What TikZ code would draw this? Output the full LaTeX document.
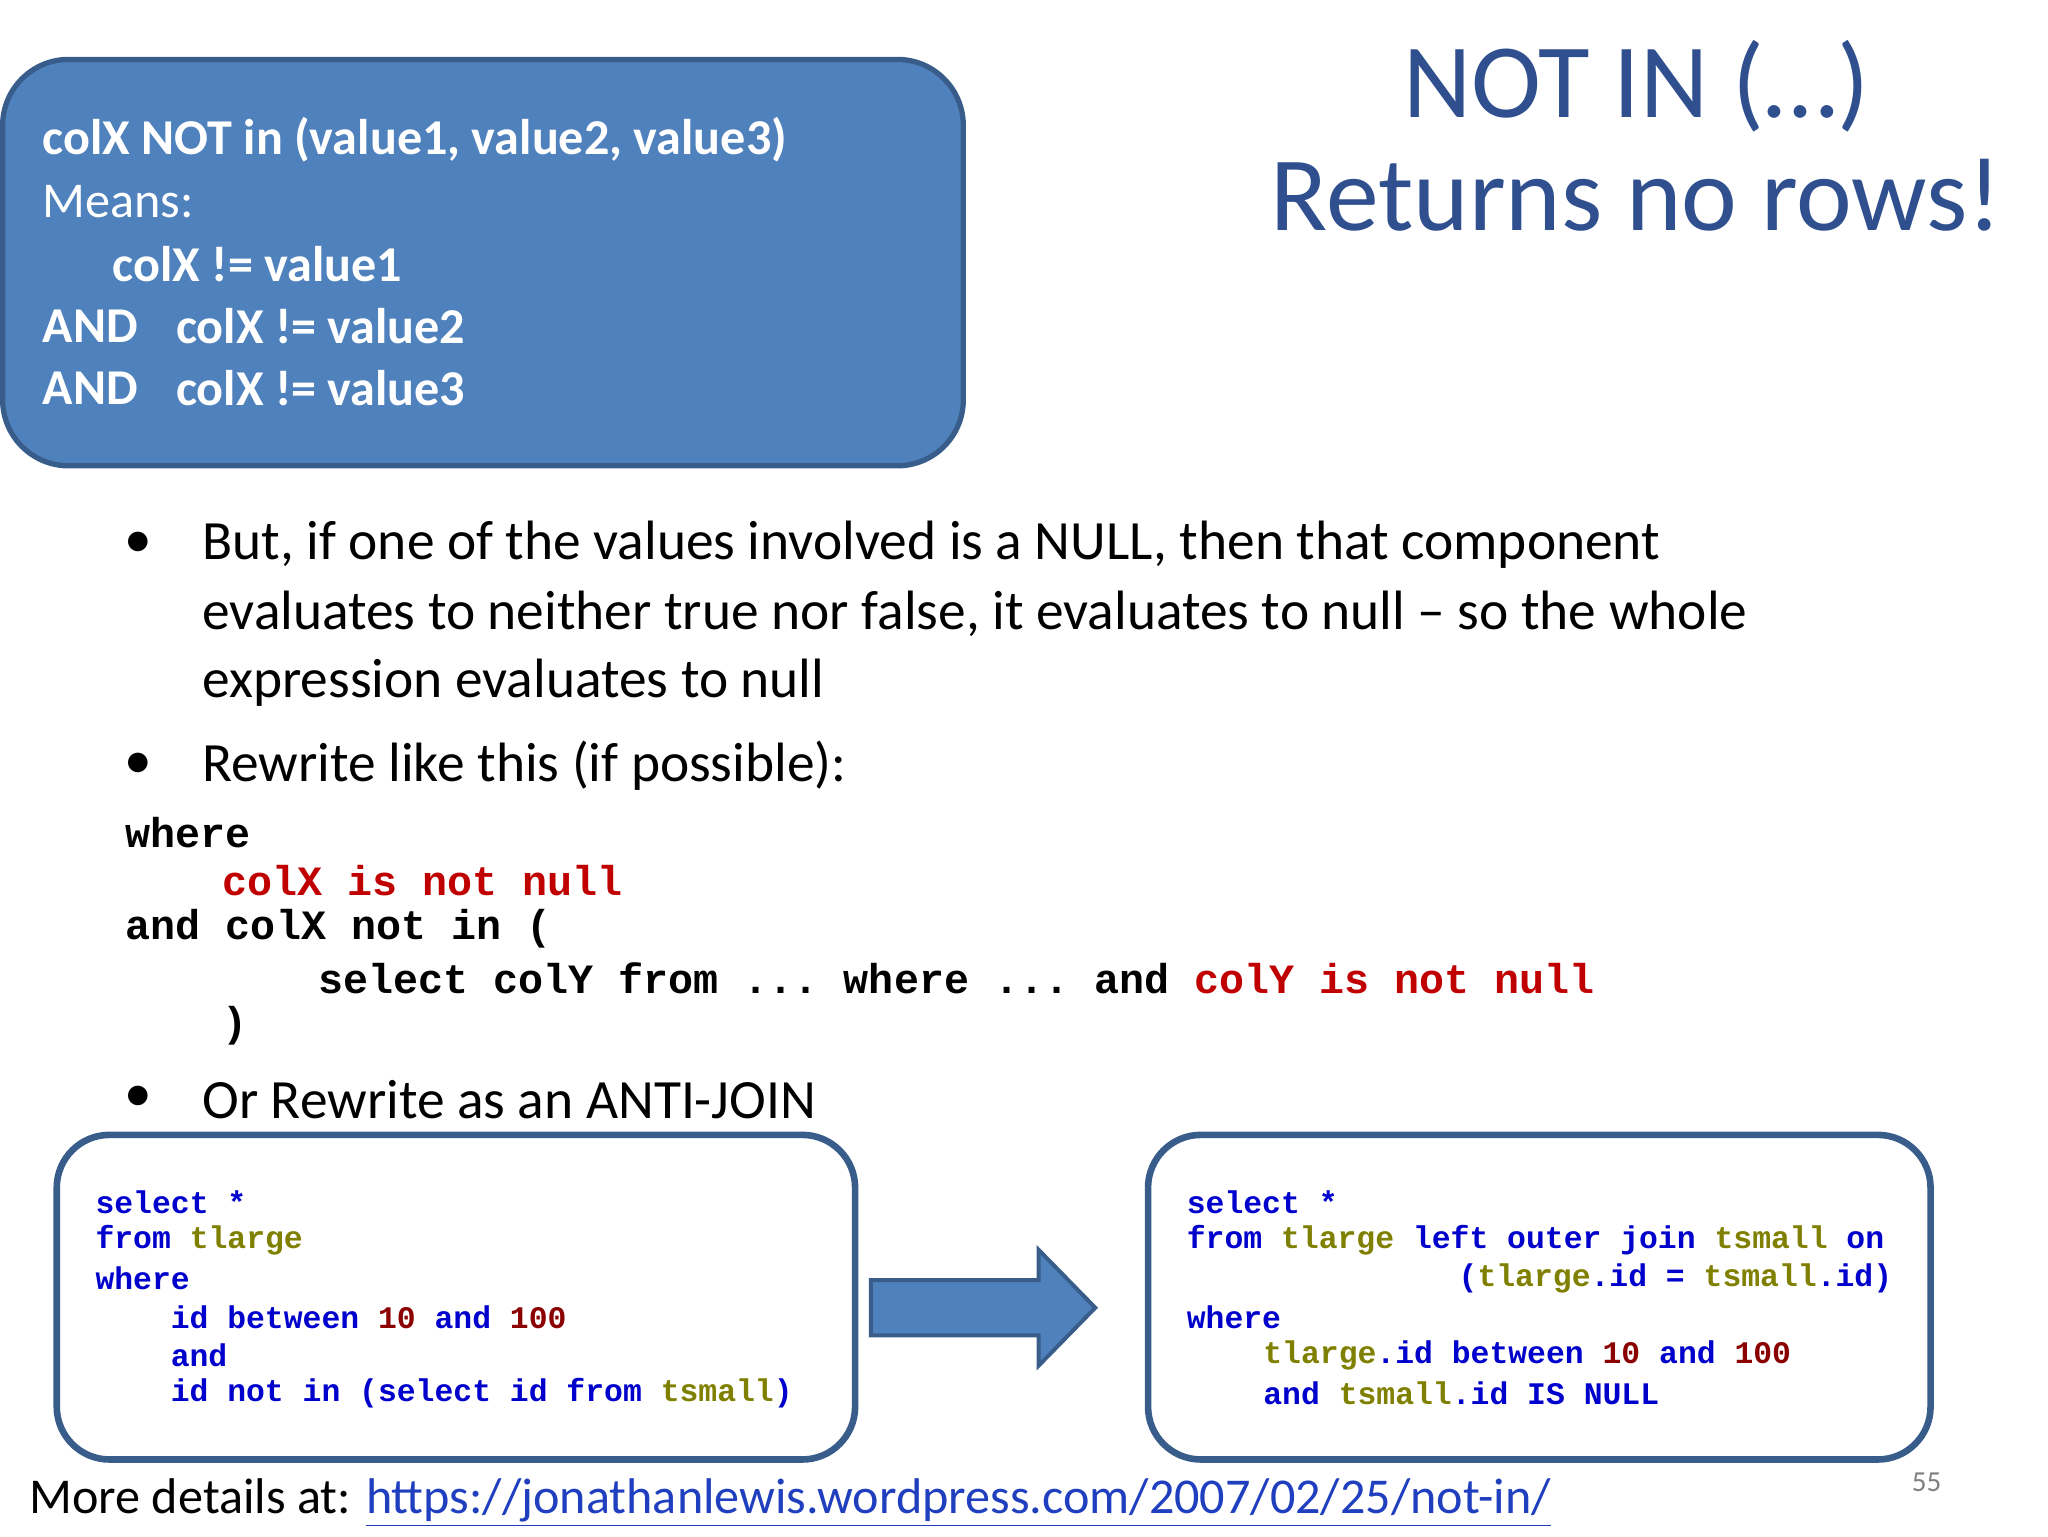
\documentclass[tikz,border=0pt]{standalone}
\usepackage{fontspec}
\setmainfont{Carlito}
\setmonofont{Liberation Mono}
\usetikzlibrary{shapes.arrows}
\definecolor{boxblue}{HTML}{4F81BD}
\definecolor{boxedge}{HTML}{385D8A}
\definecolor{titleblue}{HTML}{2F4F8F}
\definecolor{kw}{HTML}{0000CC}
\definecolor{tb}{HTML}{808000}
\definecolor{num}{HTML}{8B0000}
\definecolor{red}{HTML}{C00000}
\definecolor{linkc}{HTML}{1F3FBF}
\tikzset{
 txt/.style={anchor=west,inner sep=0pt,font=\fontsize{21}{25}\selectfont},
 btxt/.style={anchor=west,inner sep=0pt,text=white,font=\fontsize{19}{23}\selectfont\bfseries},
 code/.style={anchor=west,inner sep=0pt,font=\fontsize{15.8}{18}\selectfont\ttfamily\bfseries},
 scode/.style={anchor=west,inner sep=0pt,font=\fontsize{11.9}{14}\selectfont\ttfamily\bfseries,text=kw},
 codebox/.style={draw=boxedge,line width=2.5pt,fill=white,rounded corners=20pt},
}
\begin{document}
\begin{tikzpicture}[x=0.5pt,y=-0.5pt]
\useasboundingbox (0,0) rectangle (1552,1164);
% blue box
\draw[fill=boxblue,draw=boxedge,line width=2pt,rounded corners=25pt] (2,45) rectangle (730,353);
\node[btxt] (b1) at (32,106) {colX NOT in (value1, value2, value3)};
\node[btxt,font=\fontsize{19}{23}\selectfont] (b2) at (32,153) {Means:};
\node[btxt] (b3) at (85,200) {colX != value1};
\node[btxt] (b4) at (32,247) {AND};
\node[btxt] (b5) at (133,247) {colX != value2};
\node[btxt] (b6) at (32,294) {AND};
\node[btxt] (b7) at (133,294) {colX != value3};
% title
\node[inner sep=0pt,text=titleblue,font=\fontsize{40}{44}\selectfont] (t1) at (1240,65) {NOT IN (…)};
\node[inner sep=0pt,text=titleblue,font=\fontsize{40}{44}\selectfont] (t2) at (1240,148) {Returns no rows!};
% bullets
\foreach \yy in {413,580,833} \node[txt] at (94,\yy) {•};
\node[txt] (l1) at (153,413) {But, if one of the values involved is a NULL, then that component};
\node[txt] (l2) at (153,465) {evaluates to neither true nor false, it evaluates to null – so the whole};
\node[txt] (l3) at (153,517) {expression evaluates to null};
\node[txt] (l4) at (153,580) {Rewrite like this (if possible):};
\node[txt] (l5) at (153,833) {Or Rewrite as an ANTI-JOIN};
% main code
\node[code] (c1) at (95,631) {where};
\node[code,text=red] (c2) at (168,667) {colX is not null};
\node[code] (c3) at (95,704) {and colX not in (};
\node[code] (c4) at (241,741) {select colY from ... where ... and \textcolor{red}{colY is not null}};
\node[code] (c5) at (168,777) {)};
% boxes
\draw[codebox] (43,860) rectangle (648,1106);
\draw[codebox] (870,860) rectangle (1463,1106);
\node[scode] at (72,911) {select *};
\node[scode] at (72,940) {from \textcolor{tb}{tlarge}};
\node[scode] at (72,969) {where};
\node[scode] at (129,998) {id between \textcolor{num}{10} and \textcolor{num}{100}};
\node[scode] at (129,1027) {and};
\node[scode] at (129,1056) {id not in (select id from \textcolor{tb}{tsmall})};
\node[scode] at (899,911) {select *};
\node[scode,fill=white,inner ysep=2pt] at (899,940) {from \textcolor{tb}{tlarge} left outer join \textcolor{tb}{tsmall} on};
\node[scode] at (1105,969) {(\textcolor{tb}{tlarge}.id = \textcolor{tb}{tsmall}.id)};
\node[scode] at (899,998) {where};
\node[scode] at (957,1027) {\textcolor{tb}{tlarge}.id between \textcolor{num}{10} and \textcolor{num}{100}};
\node[scode] at (957,1056) {and \textcolor{tb}{tsmall}.id IS NULL};
% arrow
\draw[fill=boxblue,draw=boxedge,line width=1.5pt] (660,970) -- (787,970) -- (787,947) -- (830,991) -- (787,1035) -- (787,1012) -- (660,1012) -- cycle;
% footer
\node[inner sep=0pt,text=gray,font=\fontsize{11}{13}\selectfont] (pg) at (1460,1123) {55};
\node[txt,font=\fontsize{19}{23}\selectfont] (m) at (22,1139) {More details at: \textcolor{linkc}{\underline{https://jonathanlewis.wordpress.com/2007/02/25/not-in/}}};
\end{tikzpicture}
\end{document}
